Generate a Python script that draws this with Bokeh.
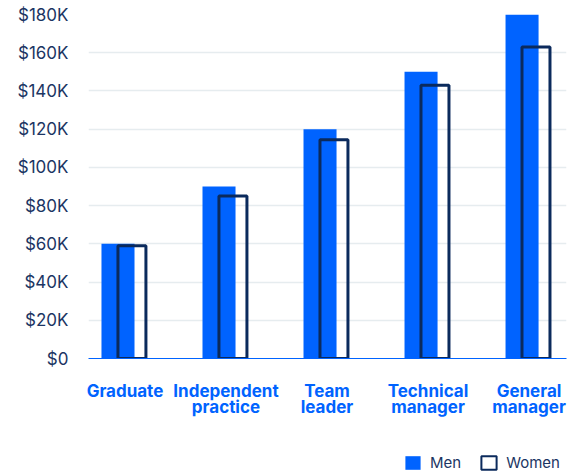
from bokeh.plotting import figure
from bokeh.layouts import column
from bokeh.models import (ColumnDataSource, Range1d, FixedTicker, Legend, LegendItem)
from bokeh.transform import dodge
from bokeh.embed import file_html
from bokeh.resources import INLINE

categories = ["Graduate", "Independent\npractice", "Team\nleader", "Technical\nmanager", "General\nmanager"]
men = [60000, 90000, 120000, 150000, 180000]
women = [59000, 85000, 114500, 143000, 163000]
y_ticks = [0, 20000, 40000, 60000, 80000, 100000, 120000, 140000, 160000, 180000]
y_tick_labels = ["$0", "$20K", "$40K", "$60K", "$80K", "$100K", "$120K", "$140K", "$160K", "$180K"]
series_names = ["Men", "Women"]

BLUE = "#0063FF"
NAVY = "#0B2A5C"
TXT = "#1B3563"
FONT = "Inter"

idx = list(range(len(categories)))
src = ColumnDataSource(dict(idx=idx, men=men, women=women))

p = figure(width=574, height=440, output_backend="svg", toolbar_location=None,
           x_range=Range1d(-0.361, 4.371), y_range=Range1d(0, 180000),
           min_border_left=88, min_border_right=8, min_border_top=14, min_border_bottom=82)
p.outline_line_color = None
p.background_fill_color = "white"
p.border_fill_color = "white"

p.vbar(x=dodge("idx", -0.069), top="men", width=0.327, bottom=0, source=src,
       fill_color=BLUE, line_color=None)
p.vbar(x=dodge("idx", 0.069), top="women", width=0.277, bottom=0, source=src,
       fill_color=None, line_color=NAVY, line_width=3)

# y axis
p.yaxis.ticker = FixedTicker(ticks=y_ticks)
p.yaxis.major_label_overrides = {t: l for t, l in zip(y_ticks, y_tick_labels)}
p.yaxis.axis_line_color = None
p.yaxis.major_tick_line_color = None
p.yaxis.major_tick_out = 0
p.yaxis.major_tick_in = 0
p.yaxis.minor_tick_line_color = None
p.yaxis.major_label_standoff = 20
p.yaxis.major_label_text_font = FONT
p.yaxis.major_label_text_font_size = "17px"
p.yaxis.major_label_text_color = TXT

p.ygrid.ticker = FixedTicker(ticks=y_ticks)
p.ygrid.grid_line_color = "#E6ECEF"
p.ygrid.grid_line_width = 1.5
p.xgrid.grid_line_color = None

# x axis
p.xaxis.ticker = FixedTicker(ticks=idx)
p.xaxis.major_label_overrides = {i: c for i, c in zip(idx, categories)}
p.xaxis.axis_line_color = BLUE
p.xaxis.axis_line_width = 1
p.xaxis.major_tick_line_color = None
p.xaxis.major_tick_out = 0
p.xaxis.major_tick_in = 0
p.xaxis.minor_tick_line_color = None
p.xaxis.major_label_standoff = 22
p.xaxis.major_label_text_font = FONT
p.xaxis.major_label_text_font_style = "bold"
p.xaxis.major_label_text_font_size = "17px"
p.xaxis.major_label_text_color = BLUE
p.xaxis.major_label_text_line_height = 0.82

# legend strip below the chart (its frame is aligned with the chart frame: x from 88 to 566)
lg = figure(width=574, height=36, output_backend="svg", toolbar_location=None,
            x_range=Range1d(0, 1), y_range=Range1d(0, 1),
            min_border_left=88, min_border_right=8, min_border_top=0, min_border_bottom=0)
lg.axis.visible = False
lg.grid.visible = False
lg.outline_line_color = None
lg.border_fill_color = "white"
nan = float("nan")
r_m = lg.vbar(x=[0.5], top=[nan], bottom=[nan], width=0.1, fill_color=BLUE, line_color=None)
r_w = lg.vbar(x=[0.5], top=[nan], bottom=[nan], width=0.1, fill_color=None, line_color=NAVY, line_width=2)
legend = Legend(items=[LegendItem(label=series_names[0], renderers=[r_m]),
                       LegendItem(label=series_names[1], renderers=[r_w])],
                orientation="horizontal", location=(315, 4),
                label_text_font=FONT, label_text_font_size="15px", label_text_color=TXT,
                glyph_width=19, glyph_height=17, spacing=18, label_standoff=8,
                border_line_color=None, background_fill_alpha=0,
                margin=0, padding=0)
lg.add_layout(legend, "center")

layout = column(p, lg, spacing=0)
open("out.html", "w").write(file_html(layout, INLINE))
